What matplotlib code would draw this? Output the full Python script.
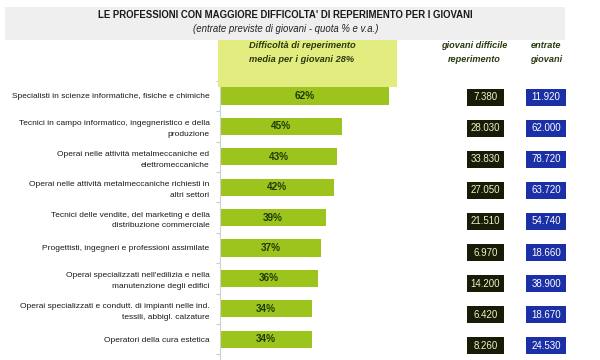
import matplotlib
matplotlib.use("Agg")
import matplotlib.pyplot as plt
from matplotlib.patches import Rectangle

categories = [
    "Specialisti in scienze informatiche, fisiche e chimiche",
    "Tecnici in campo informatico, ingegneristico e della\nproduzione",
    "Operai nelle attività metalmeccaniche ed\nelettromeccaniche",
    "Operai nelle attività metalmeccaniche richiesti in\naltri settori",
    "Tecnici delle vendite, del marketing e della\ndistribuzione commerciale",
    "Progettisti, ingegneri e professioni assimilate",
    "Operai specializzati nell'edilizia e nella\nmanutenzione degli edifici",
    "Operai specializzati e condutt. di impianti nelle ind.\ntessili, abbigl. calzature",
    "Operatori della cura estetica",
]
difficolta_pct = [62, 45, 43, 42, 39, 37, 36, 34, 34]
giovani_difficile = ["7.380", "28.030", "33.830", "27.050", "21.510", "6.970", "14.200", "6.420", "8.260"]
entrate_giovani = ["11.920", "62.000", "78.720", "63.720", "54.740", "18.660", "38.900", "18.670", "24.530"]

title = "LE PROFESSIONI CON MAGGIORE DIFFICOLTA' DI REPERIMENTO PER I GIOVANI"
subtitle = "(entrate previste di giovani - quota % e v.a.)"
header_bar = "Difficoltà di reperimento\nmedia per i giovani 28%"
header_col1 = "giovani difficile\nreperimento"
header_col2 = "entrate\ngiovani"

W, H = 600, 360
fig = plt.figure(figsize=(6, 3.6), dpi=100)
fig.patch.set_facecolor("white")
FONT = "Liberation Sans"

def fx(px):
    return px / W

def fy(py):
    return 1 - py / H

# Title band
fig.patches.append(Rectangle((fx(5), fy(40)), fx(560), 33 / H, transform=fig.transFigure,
                             facecolor="#efefef", edgecolor="none", zorder=0))
fig.text(fx(285.5), fy(15.5), title, ha="center", va="center", fontsize=6.9,
         fontweight="bold", color="#1a1a1a", family=FONT)
fig.text(fx(286), fy(29), subtitle, ha="center", va="center", fontsize=6.9,
         style="italic", color="#222222", family=FONT)

# Yellow header box
fig.patches.append(Rectangle((fx(218), fy(87)), fx(179), 47 / H, transform=fig.transFigure,
                             facecolor="#e3ec7e", edgecolor="none", zorder=0))
fig.text(fx(302), fy(52.5), header_bar, ha="center", va="center", fontsize=6.7,
         style="italic", fontweight="bold", color="#2a3a10", family=FONT, linespacing=1.65)
fig.text(fx(474), fy(52.5), header_col1, ha="center", va="center", fontsize=6.6,
         style="italic", fontweight="bold", color="#2a3a10", family=FONT, linespacing=1.65)
fig.text(fx(546), fy(52.5), header_col2, ha="center", va="center", fontsize=6.6,
         style="italic", fontweight="bold", color="#2a3a10", family=FONT, linespacing=1.65)

# Bar axes
n = len(categories)
row0, step = 96.0, 30.4
top_px = row0 - step / 2
bot_px = row0 + step * (n - 0.5)
left_px, right_px = 220, 420
ax = fig.add_axes([fx(left_px), fy(bot_px + 6), fx(right_px - left_px), (bot_px + 6 - top_px) / H])
ax.set_facecolor("none")
pos = list(range(n))
ax.barh(pos, difficolta_pct, height=0.57, color="#9cc41c", edgecolor="none", zorder=2)
ax.set_xlim(0, (right_px - left_px) / 2.72)
ax.set_ylim(n - 0.5 + 6 / step, -0.5)
for i, v in enumerate(difficolta_pct):
    ax.text(v / 2, i, f"{v}%", ha="center", va="center", fontsize=7.2, fontweight="bold",
            color="#1f3a08", family=FONT, zorder=3)
ax.set_yticks(pos)
ax.set_yticklabels(categories, fontsize=6.0, family=FONT, color="#1a1a1a", linespacing=1.78)
ax.set_yticks([i + 0.5 for i in range(-1, n)], minor=True)
ax.tick_params(axis="y", which="major", length=0, pad=7.5)
ax.tick_params(axis="y", which="minor", length=3, color="#cccccc", width=0.8)
ax.set_xticks([])
for s in ["top", "right", "bottom"]:
    ax.spines[s].set_visible(False)
ax.spines["left"].set_color("#d0d0d0")
ax.spines["left"].set_linewidth(0.8)

# Value boxes (separate axes, slightly different row spacing)
bx0, bstep = 97.0, 31.1
bax = fig.add_axes([0, 0, 1, 1])
bax.set_xlim(0, W)
bax.set_ylim(H, 0)
bax.axis("off")
bax.set_facecolor("none")
for i in range(n):
    cy = bx0 + bstep * i
    bax.add_patch(Rectangle((467, cy - 8.5), 37, 17, facecolor="#161c06", edgecolor="none"))
    bax.text(485.5, cy, giovani_difficile[i], ha="center", va="center", fontsize=7,
             color="#f2f2c8", family=FONT)
    bax.add_patch(Rectangle((526, cy - 8.5), 40, 17, facecolor="#1b2fa6", edgecolor="none"))
    bax.text(546, cy, entrate_giovani[i], ha="center", va="center", fontsize=7,
             color="white", family=FONT)

fig.savefig("out.png", dpi=100)
